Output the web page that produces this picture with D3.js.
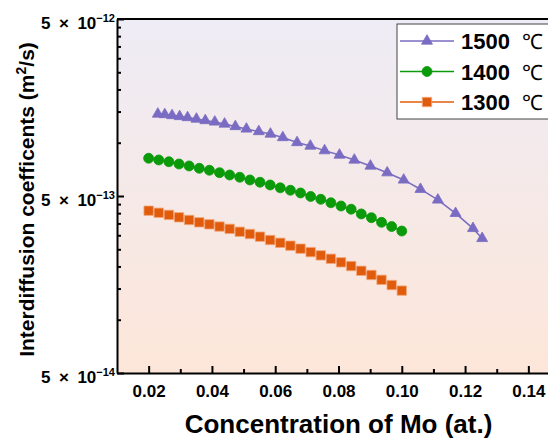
<!DOCTYPE html>
<html>
<head>
<meta charset="utf-8">
<script src="https://cdn.jsdelivr.net/npm/d3@7"></script>
<style>
  html, body { margin: 0; padding: 0; background: #fff; }
  svg { display: block; }
  text { font-family: "Liberation Sans", Arial, sans-serif; fill: #000; }
</style>
</head>
<body>
<svg id="chart" width="548" height="439"></svg>
<script>
// Interdiffusion coefficients vs. Mo concentration at three temperatures (m²/s)
const conc1500 = [0.0229, 0.0251, 0.0274, 0.0298, 0.0323, 0.0351, 0.0379, 0.0409, 0.0440,
  0.0474, 0.0509, 0.0548, 0.0585, 0.0624, 0.0669, 0.0711, 0.0756, 0.0803, 0.0850, 0.0901,
  0.0954, 0.1006, 0.1059, 0.1114, 0.1170, 0.1225, 0.1254];
const D1500 = [14.53e-13, 14.43e-13, 14.25e-13, 14.07e-13, 13.88e-13, 13.61e-13, 13.35e-13,
  13.10e-13, 12.76e-13, 12.35e-13, 11.96e-13, 11.57e-13, 11.20e-13, 10.70e-13, 10.03e-13,
  9.58e-13, 9.02e-13, 8.52e-13, 7.99e-13, 7.39e-13, 6.77e-13, 6.16e-13, 5.46e-13, 4.75e-13,
  3.99e-13, 3.28e-13, 2.88e-13];

const concLow = [0.0200, 0.0232, 0.0264, 0.0296, 0.0328, 0.0360, 0.0392, 0.0424, 0.0456,
  0.0488, 0.0520, 0.0552, 0.0584, 0.0616, 0.0648, 0.0680, 0.0712, 0.0744, 0.0776, 0.0808,
  0.0840, 0.0872, 0.0904, 0.0936, 0.0968, 0.1000];
const D1400 = [8.17e-13, 7.99e-13, 7.81e-13, 7.58e-13, 7.39e-13, 7.17e-13, 6.99e-13, 6.77e-13,
  6.57e-13, 6.38e-13, 6.16e-13, 5.98e-13, 5.77e-13, 5.56e-13, 5.39e-13, 5.20e-13, 4.97e-13,
  4.79e-13, 4.58e-13, 4.39e-13, 4.21e-13, 3.96e-13, 3.77e-13, 3.55e-13, 3.36e-13, 3.17e-13];
const D1300 = [4.13e-13, 4.02e-13, 3.91e-13, 3.79e-13, 3.66e-13, 3.55e-13, 3.46e-13, 3.36e-13,
  3.26e-13, 3.14e-13, 3.05e-13, 2.945e-13, 2.82e-13, 2.72e-13, 2.62e-13, 2.52e-13, 2.41e-13,
  2.31e-13, 2.21e-13, 2.11e-13, 2.01e-13, 1.89e-13, 1.79e-13, 1.68e-13, 1.57e-13, 1.46e-13];

const seriesNames = ["1500", "1400", "1300"];
const xTicks = [0.02, 0.04, 0.06, 0.08, 0.10, 0.12, 0.14];
const xMinorTicks = [0.03, 0.05, 0.07, 0.09, 0.11, 0.13];
const yMajorTicks = [5e-14, 5e-13, 5e-12];
const yMajorExp = ["−14", "−13", "−12"];
const yMinorTicks = [1e-13, 1.5e-13, 2e-13, 2.5e-13, 3e-13, 3.5e-13, 4e-13, 4.5e-13,
  1e-12, 1.5e-12, 2e-12, 2.5e-12, 3e-12, 3.5e-12, 4e-12, 4.5e-12];

const series = [
  { name: seriesNames[0], x: conc1500, y: D1500, color: "#7a6cc2", stroke: "#7a6cc2", symbol: d3.symbolTriangle, size: 52 },
  { name: seriesNames[1], x: concLow, y: D1400, color: "#0a9a0a", stroke: "#0a9a0a", symbol: d3.symbolCircle, size: 78 },
  { name: seriesNames[2], x: concLow, y: D1300, color: "#e05c0c", stroke: "#f3a77a", symbol: d3.symbolSquare, size: 88 }
];

const svg = d3.select("#chart");
const plotLeft = 117, plotTop = 19, plotBottom = 373, plotRight = 560;

const x = d3.scaleLinear().domain([0.01, 0.15]).range([plotLeft, plotRight]);
const y = d3.scaleLog().domain([5e-14, 5e-12]).range([plotBottom, plotTop]);

// background gradient of the plotting area
const defs = svg.append("defs");
const grad = defs.append("linearGradient").attr("id", "bg")
  .attr("x1", 0).attr("y1", 0).attr("x2", 0).attr("y2", 1);
grad.append("stop").attr("offset", "0%").attr("stop-color", "#eeecf6");
grad.append("stop").attr("offset", "100%").attr("stop-color", "#fde6d9");
svg.append("rect").attr("x", plotLeft).attr("y", plotTop)
  .attr("width", plotRight - plotLeft).attr("height", plotBottom - plotTop).attr("fill", "url(#bg)");

// series lines and markers
const plot = svg.append("g");
series.forEach(s => {
  const pts = s.x.map((v, i) => [v, s.y[i]]);
  plot.append("path")
    .attr("d", d3.line().x(d => x(d[0])).y(d => y(d[1]))(pts))
    .attr("fill", "none").attr("stroke", s.color).attr("stroke-width", 1.5);
  plot.selectAll(null).data(pts).join("path")
    .attr("transform", d => `translate(${x(d[0])},${y(d[1])})`)
    .attr("d", d3.symbol(s.symbol, s.size))
    .attr("fill", s.color).attr("stroke", s.stroke).attr("stroke-width", 0.8);
});

// axes
const xAxis = svg.append("g").attr("transform", `translate(0,${plotBottom})`)
  .call(d3.axisBottom(x).tickValues(xTicks).tickSizeInner(-7).tickSizeOuter(0)
    .tickFormat(d3.format(".2f")));
xAxis.selectAll(".tick text").attr("font-size", 17).attr("font-weight", "bold")
  .attr("font-family", "Liberation Sans, Arial, sans-serif").attr("dy", "0").attr("y", 24);
const xMinor = svg.append("g").attr("transform", `translate(0,${plotBottom})`)
  .call(d3.axisBottom(x).tickValues(xMinorTicks).tickSizeInner(-4).tickSizeOuter(0).tickFormat(""));
xMinor.select(".domain").remove();

const yAxis = svg.append("g").attr("transform", `translate(${plotLeft},0)`)
  .call(d3.axisLeft(y).tickValues(yMajorTicks).tickSizeInner(-7).tickSizeOuter(0).tickFormat(""));
const yMinor = svg.append("g").attr("transform", `translate(${plotLeft},0)`)
  .call(d3.axisLeft(y).tickValues(yMinorTicks).tickSizeInner(-4).tickSizeOuter(0).tickFormat(""));
yMinor.select(".domain").remove();

[xAxis, xMinor, yAxis, yMinor].forEach(g => {
  g.selectAll(".domain").attr("stroke", "#000").attr("stroke-width", 2);
  g.selectAll(".tick line").attr("stroke", "#000").attr("stroke-width", 2);
});

// top frame
svg.append("line").attr("x1", plotLeft).attr("x2", plotRight).attr("y1", plotTop).attr("y2", plotTop)
  .attr("stroke", "#000").attr("stroke-width", 2);

// y tick labels with exponent
yMajorTicks.forEach((v, i) => {
  const t = svg.append("text").attr("x", 115).attr("y", y(v) + 10)
    .attr("text-anchor", "end").attr("font-size", 17).attr("font-weight", "bold");
  t.append("tspan").text("5\u2002×\u200210");
  t.append("tspan").attr("dy", -7).attr("font-size", 11).text(yMajorExp[i]);
});

// axis titles
svg.append("text").attr("x", (plotLeft + plotRight) / 2).attr("y", 433)
  .attr("text-anchor", "middle").attr("font-size", 26).attr("font-weight", "bold")
  .text("Concentration of Mo (at.)");
const yt = svg.append("text").attr("transform", `translate(34,${(33 + 362) / 2 + 2}) rotate(-90)`)
  .attr("text-anchor", "middle").attr("font-size", 21).attr("font-weight", "bold");
yt.append("tspan").text("Interdiffusion coefficents (m");
yt.append("tspan").attr("dy", -8).attr("font-size", 14).text("2");
yt.append("tspan").attr("dy", 8).text("/s)");

// legend
const lg = svg.append("g");
lg.append("rect").attr("x", 397).attr("y", 24).attr("width", 170).attr("height", 95)
  .attr("fill", "#fff").attr("stroke", "#444").attr("stroke-width", 1);
series.forEach((s, i) => {
  const cy = 41 + i * 30.5;
  lg.append("line").attr("x1", 400).attr("x2", 454).attr("y1", cy).attr("y2", cy)
    .attr("stroke", s.color).attr("stroke-width", 1.5);
  lg.append("path").attr("transform", `translate(427,${cy})`)
    .attr("d", d3.symbol(s.symbol, s.size))
    .attr("fill", s.color).attr("stroke", s.stroke).attr("stroke-width", 0.8);
  lg.append("text").attr("x", 461).attr("y", cy + 8).attr("font-size", 22)
    .attr("font-weight", "bold").text(s.name);
  lg.append("text").attr("x", 522).attr("y", cy + 8).attr("font-size", 21)
    .attr("font-family", "Noto Sans CJK SC, sans-serif").text("℃");
});
</script>
</body>
</html>
